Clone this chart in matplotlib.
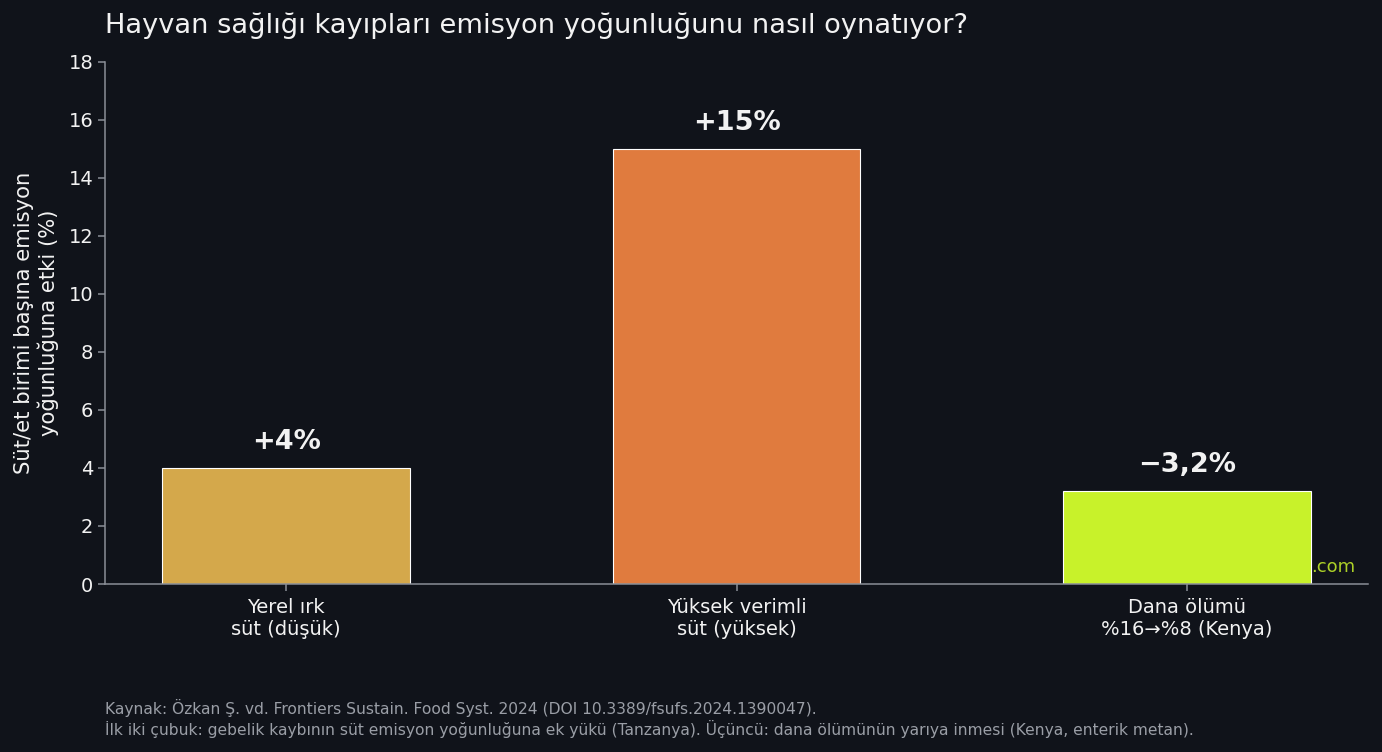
import numpy as np
import matplotlib.pyplot as plt

# data
categories = ["Yerel ırk\nsüt (düşük)", "Yüksek verimli\nsüt (yüksek)", "Dana ölümü\n%16→%8 (Kenya)"]
values = [4.0, 15.0, 3.2]
value_labels = ["+4%", "+15%", "\u22123,2%"]
bar_colors = ["#D4A84B", "#E07B3E", "#C8F22A"]

bg = "#10131A"
fg = "#F2F2F2"
axis_col = "#8A8E96"

plt.rcParams['font.family'] = ['DejaVu Sans']

fig = plt.figure(figsize=(13.82, 7.52), dpi=100, facecolor=bg)
ax = fig.add_axes([0.076, 0.2234, 0.914, 0.6942], facecolor=bg)

x = np.arange(len(categories))
bars = ax.bar(x, values, width=0.55, color=bar_colors, edgecolor="white", linewidth=0.8, zorder=3)

for xi, v, lab in zip(x, values, value_labels):
    ax.text(xi, v + 0.45, lab, ha="center", va="bottom", color=fg,
            fontsize=19.5, fontweight="bold", zorder=4)

# watermark mostly hidden behind the last bar
ax.text(0.9897, 0.015, ".com", transform=ax.transAxes, ha="right", va="bottom",
        color="#C8F22A", fontsize=13, alpha=0.85, zorder=1)

ax.set_ylim(0, 18)
ax.set_yticks(range(0, 19, 2))
ax.set_xticks(x)
ax.set_xticklabels(categories)
ax.tick_params(colors=fg, labelsize=14)
ax.tick_params(axis="both", color=axis_col, length=5, width=1.1)
ax.tick_params(axis="x", pad=5)
for s in ["top", "right"]:
    ax.spines[s].set_visible(False)
for s in ["left", "bottom"]:
    ax.spines[s].set_color(axis_col)
    ax.spines[s].set_linewidth(1.1)
    ax.spines[s].set_zorder(4)

ax.set_ylabel("Süt/et birimi başına emisyon\nyoğunluğuna etki (%)", color=fg, fontsize=15.2, labelpad=7)

fig.text(0.076, 0.966, "Hayvan sağlığı kayıpları emisyon yoğunluğunu nasıl oynatıyor?",
         ha="left", va="center", color=fg, fontsize=19.65)

fig.text(0.076, 0.0445,
         "Kaynak: Özkan Ş. vd. Frontiers Sustain. Food Syst. 2024 (DOI 10.3389/fsufs.2024.1390047).\n"
         "İlk iki çubuk: gebelik kaybının süt emisyon yoğunluğuna ek yükü (Tanzanya). Üçüncü: dana ölümünün yarıya inmesi (Kenya, enterik metan).",
         ha="left", va="center", color="#9A9EA6", fontsize=11.2, linespacing=1.25)

fig.savefig("out.png", dpi=100, facecolor=bg)
